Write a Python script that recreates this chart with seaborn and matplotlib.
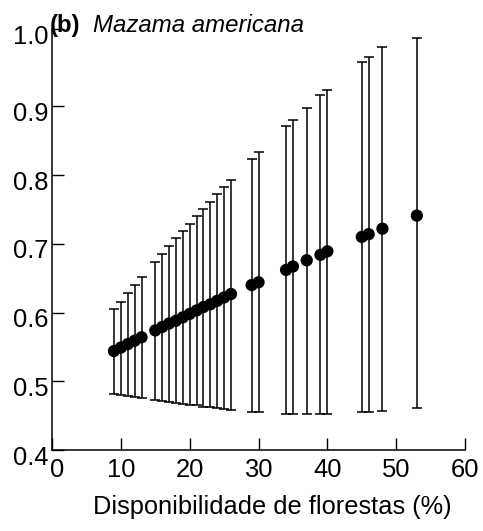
import numpy as np
import pandas as pd
import matplotlib
matplotlib.use("Agg")
import matplotlib.pyplot as plt
import matplotlib.transforms as mtransforms
import seaborn as sns

# Dados (b) Mazama americana
forest = [9, 10, 11, 12, 13, 15, 16, 17, 18, 19, 20, 21, 22, 23, 24, 25, 26,
          29, 30, 34, 35, 37, 39, 40, 45, 46, 48, 53]
prob = [0.544, 0.549, 0.554, 0.559, 0.564,
        0.574, 0.579, 0.584, 0.588, 0.593, 0.598, 0.603, 0.608, 0.612, 0.617, 0.622, 0.627,
        0.640, 0.644, 0.662, 0.667, 0.676, 0.684, 0.689, 0.710, 0.714, 0.722, 0.741]
upper = [0.605, 0.616, 0.628, 0.640, 0.651,
         0.674, 0.685, 0.697, 0.708, 0.718, 0.729, 0.741, 0.751, 0.761, 0.772, 0.782, 0.793,
         0.823, 0.833, 0.872, 0.880, 0.898, 0.916, 0.924, 0.964, 0.971, 0.986, 0.999]
lower = [0.482, 0.480, 0.479, 0.477, 0.475,
         0.473, 0.472, 0.470, 0.469, 0.467, 0.466, 0.465, 0.463, 0.462, 0.461, 0.460, 0.458,
         0.456, 0.456, 0.453, 0.453, 0.453, 0.453, 0.453, 0.455, 0.456, 0.457, 0.461]

x_ticks = [0, 10, 20, 30, 40, 50, 60]
y_top = 1.012  # o eixo original termina um pouco acima de 1.0
y_ticks = [0.4, 0.5, 0.6, 0.7, 0.8, 0.9, y_top]
y_labels = ['0.4', '0.5', '0.6', '0.7', '0.8', '0.9', '1.0']

df = pd.DataFrame({'forest': forest, 'prob': prob, 'upper': upper, 'lower': lower})

sns.set_style("ticks", rc={'text.color': 'black', 'axes.labelcolor': 'black',
                           'xtick.color': 'black', 'ytick.color': 'black',
                           'axes.edgecolor': 'black'})
plt.rcParams['font.family'] = ['Liberation Sans', 'DejaVu Sans']

fig = plt.figure(figsize=(4.83, 5.31), dpi=100)
ax = fig.add_axes([0.1077, 0.1525, 0.8551, 0.7923])

ax.errorbar(df['forest'], df['prob'],
            yerr=[df['prob'] - df['lower'], df['upper'] - df['prob']],
            fmt='none', ecolor='black', elinewidth=1.1, capsize=3.6, capthick=1.1)
sns.scatterplot(data=df, x='forest', y='prob', color='black', s=78,
                edgecolor='none', ax=ax, zorder=3)

ax.set_xlim(0, 60)
ax.set_ylim(0.4, y_top)
ax.set_xticks(x_ticks)
ax.set_yticks(y_ticks)
ax.set_yticklabels(y_labels)
ax.tick_params(axis='both', direction='in', length=8.5, width=1, labelsize=18.4)
ax.tick_params(axis='x', pad=6)
ax.tick_params(axis='y', pad=2.8)
sns.despine(ax=ax)
for s in ['left', 'bottom']:
    ax.spines[s].set_linewidth(1.1)

# rótulos do eixo y ficam um pouco abaixo das marcas, como no original
shift = mtransforms.ScaledTranslation(0, -0.05, fig.dpi_scale_trans)
for lab in ax.get_yticklabels():
    lab.set_transform(lab.get_transform() + shift)
# o "0" do eixo x fica deslocado para a direita
shift_x = mtransforms.ScaledTranslation(0.055, 0, fig.dpi_scale_trans)
lab0 = ax.get_xticklabels()[0]
lab0.set_transform(lab0.get_transform() + shift_x)

ax.set_xlabel('Disponibilidade de florestas (%)', fontsize=18.3, labelpad=9, x=0.533)
ax.set_ylabel('')

fig.text(0.1035, 0.9397, '(b)', fontsize=17.3, fontweight='bold', va='baseline')
fig.text(0.1925, 0.9397, 'Mazama americana', fontsize=17.3, style='italic', va='baseline')

fig.savefig('out.png', dpi=100)
